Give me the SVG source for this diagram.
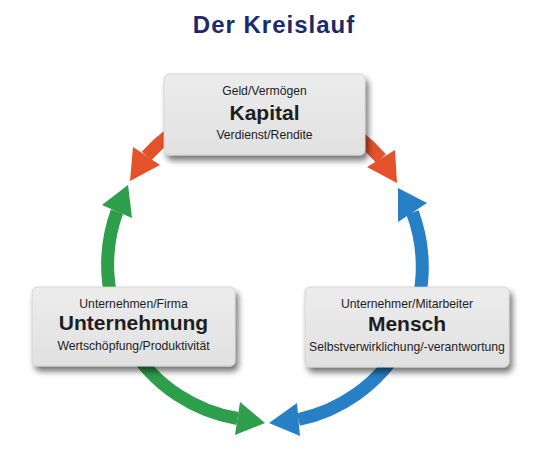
<svg xmlns="http://www.w3.org/2000/svg" width="552" height="465" viewBox="0 0 552 465">
<style>
.shaft{fill:none;stroke-width:13;stroke-linecap:butt}
.or{stroke:#e3522a}.gr{stroke:#2d9e49}.bl{stroke:#2780c6}
.orf{fill:#e3522a}.grf{fill:#2d9e49}.blf{fill:#2780c6}
.box{fill:url(#boxg);stroke:#cfcfcf;stroke-width:0.8;filter:url(#sh)}
text{font-family:"Liberation Sans",Arial,Helvetica,sans-serif;fill:#1e1e1e;text-anchor:middle}
.sm{font-size:12.2px}
.big{font-size:21px;font-weight:bold}
.title{font-size:24px;font-weight:bold;fill:#1b2a6b;letter-spacing:1px}
</style>
<defs>
<linearGradient id="boxg" x1="0" y1="0" x2="0" y2="1">
<stop offset="0" stop-color="#ececec"/>
<stop offset="1" stop-color="#e1e1e1"/>
</linearGradient>
<filter id="sh" x="-10%" y="-15%" width="125%" height="150%">
<feGaussianBlur in="SourceAlpha" stdDeviation="3"/>
<feOffset dx="3" dy="5" result="b"/>
<feComponentTransfer><feFuncA type="linear" slope="0.55"/></feComponentTransfer>
<feMerge><feMergeNode/><feMergeNode in="SourceGraphic"/></feMerge>
</filter>
</defs>
<rect width="552" height="465" fill="#ffffff"/>
<text class="title" x="274" y="33">Der Kreislauf</text>
<g id="connectors">
<path class="shaft or" d="M146.5,156 A156,156 0 0 1 381,158.5"/>
<polygon class="orf" points="130,181 133,147 160,165"/>
<polygon class="orf" points="397,183 367,167 395,150"/>
<path class="shaft gr" d="M117,211.5 A156,156 0 0 0 237.5,418.5"/>
<polygon class="grf" points="128,185 102,205 132,218"/>
<polygon class="grf" points="265,423 240,402 235,435"/>
<path class="shaft bl" d="M412.5,212.5 A156,156 0 0 1 298.5,419.5"/>
<polygon class="blf" points="398,188 427,203 398,222"/>
<polygon class="blf" points="269,423 297,403 300,436"/>
</g>
<g id="kapital">
<rect class="box" x="164" y="74" width="201" height="81" rx="5"/>
<text class="sm" x="264.5" y="95">Geld/Vermögen</text>
<text class="big" x="264.5" y="119.5">Kapital</text>
<text class="sm" x="264.5" y="138.5">Verdienst/Rendite</text>
</g>
<g id="unternehmung">
<rect class="box" x="32" y="287" width="203" height="79" rx="5"/>
<text class="sm" x="133.5" y="307.5">Unternehmen/Firma</text>
<text class="big" x="133.5" y="330">Unternehmung</text>
<text class="sm" x="133.5" y="350">Wertschöpfung/Produktivität</text>
</g>
<g id="mensch">
<rect class="box" x="305" y="287" width="204" height="80" rx="5"/>
<text class="sm" x="407" y="308">Unternehmer/Mitarbeiter</text>
<text class="big" x="407" y="331">Mensch</text>
<text class="sm" x="407" y="351">Selbstverwirklichung/-verantwortung</text>
</g>
</svg>
